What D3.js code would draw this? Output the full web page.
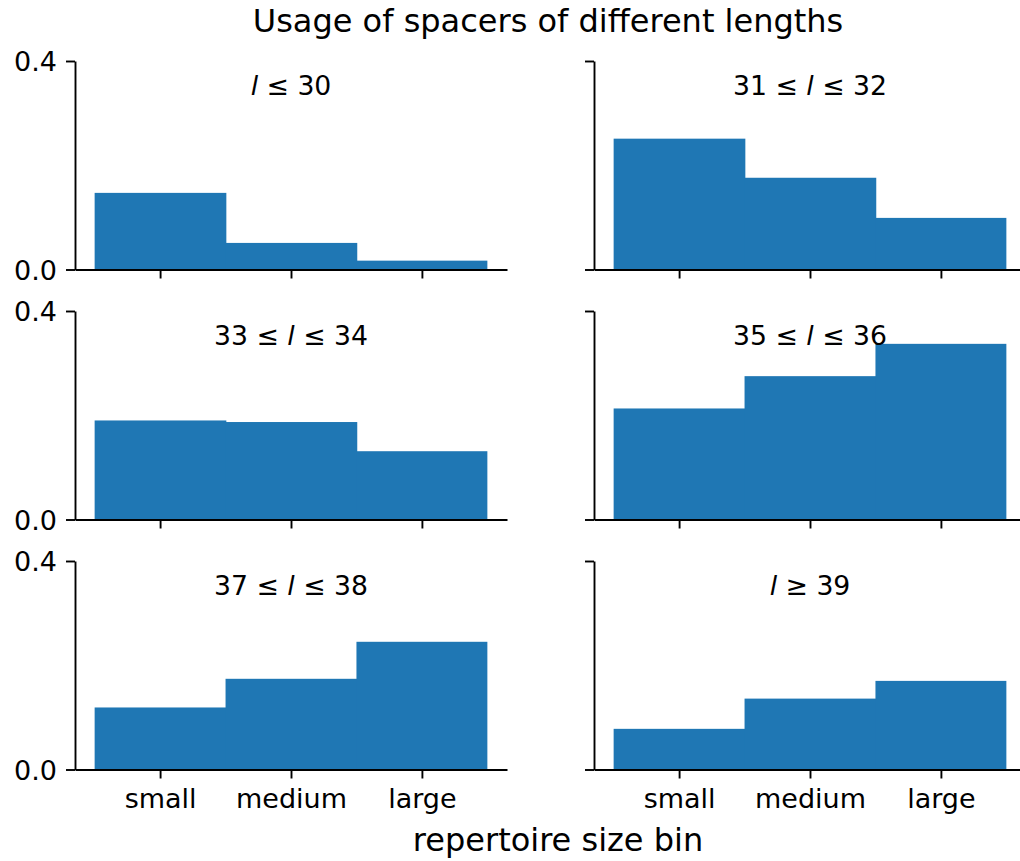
<!DOCTYPE html>
<html>
<head>
<meta charset="utf-8">
<script src="https://cdn.jsdelivr.net/npm/d3@7"></script>
<style>
  html, body { margin: 0; padding: 0; background: #fff; }
  svg { display: block; font-family: "DejaVu Sans", sans-serif; }
  .axis text { font-family: "DejaVu Sans", sans-serif; font-size: 27px; fill: #000; }
  .axis path, .axis line { stroke: #000; stroke-width: 1.9px; }
</style>
</head>
<body>
<svg id="chart" width="1020" height="861"></svg>
<script>
// Repertoire size bins on the x axis
const bins = ["small", "medium", "large"];

// Fraction of spacers in each length class, per repertoire size bin
const usageUpTo30 = [0.147, 0.051, 0.017];
const usage31to32 = [0.251, 0.176, 0.099];
const usage33to34 = [0.190, 0.187, 0.131];
const usage35to36 = [0.213, 0.275, 0.337];
const usage37to38 = [0.119, 0.174, 0.245];
const usageFrom39 = [0.078, 0.136, 0.170];

// Panel titles: text before and after the italic "l"
const titleBefore = ["", "31 ≤ ", "33 ≤ ", "35 ≤ ", "37 ≤ ", ""];
const titleAfter  = [" ≤ 30", " ≤ 32", " ≤ 34", " ≤ 36", " ≤ 38", " ≥ 39"];

const yTicks = [0, 0.4];
const yTickLabels = ["0.0", "0.4"];

const panels = [usageUpTo30, usage31to32, usage33to34, usage35to36, usage37to38, usageFrom39];

const svg = d3.select("#chart");

const colX = [75, 594];
const rowY = [61, 311, 561];
const panelW = 432, panelH = 208.5;
const barColor = "#1f77b4";

panels.forEach((values, i) => {
  const col = i % 2, row = Math.floor(i / 2);
  const x0 = colX[col], y0 = rowY[row];

  const x = d3.scaleLinear().domain([-0.65, 2.65]).range([x0, x0 + panelW]);
  const y = d3.scaleLinear().domain([0, 0.4]).range([y0 + panelH, y0]);

  const g = svg.append("g");

  // bars are one unit wide so neighbours touch; a small overlap hides seams
  g.selectAll("rect.bar")
    .data(values)
    .join("rect")
    .attr("class", "bar")
    .attr("x", (d, k) => x(k - 0.5))
    .attr("width", (d, k) => x(k + 0.5) - x(k - 0.5) + (k < values.length - 1 ? 0.8 : 0))
    .attr("y", d => y(d))
    .attr("height", d => y(0) - y(d))
    .attr("fill", barColor);

  // left spine and ticks
  const yAxis = d3.axisLeft(y)
    .tickValues(yTicks)
    .tickSize(9)
    .tickSizeOuter(0)
    .tickPadding(9)
    .tickFormat((d, k) => col === 0 ? yTickLabels[k] : "");
  g.append("g").attr("class", "axis")
    .attr("transform", `translate(${x0},0)`)
    .call(yAxis)
    .selectAll("text").attr("dy", "0.36em");

  // bottom spine and ticks
  const xAxis = d3.axisBottom(x)
    .tickValues([0, 1, 2])
    .tickSize(9)
    .tickSizeOuter(0)
    .tickPadding(10)
    .tickFormat(k => row === 2 ? bins[k] : "");
  g.append("g").attr("class", "axis")
    .attr("transform", `translate(0,${y0 + panelH})`)
    .call(xAxis)
    .selectAll("text").attr("dy", "0.74em");

  // panel title
  const t = g.append("text")
    .attr("x", x0 + panelW / 2)
    .attr("y", y0 + 34)
    .attr("text-anchor", "middle")
    .attr("font-size", "26.7px")
    .attr("fill", "#000");
  if (titleBefore[i]) t.append("tspan").text(titleBefore[i]);
  t.append("tspan").attr("font-style", "italic").text("l");
  t.append("tspan").text(titleAfter[i]);
});

svg.append("text")
  .attr("x", 548)
  .attr("y", 32)
  .attr("text-anchor", "middle")
  .attr("font-size", "32px")
  .attr("fill", "#000")
  .text("Usage of spacers of different lengths");

svg.append("text")
  .attr("x", 558)
  .attr("y", 851)
  .attr("text-anchor", "middle")
  .attr("font-size", "32px")
  .attr("fill", "#000")
  .text("repertoire size bin");
</script>
</body>
</html>
